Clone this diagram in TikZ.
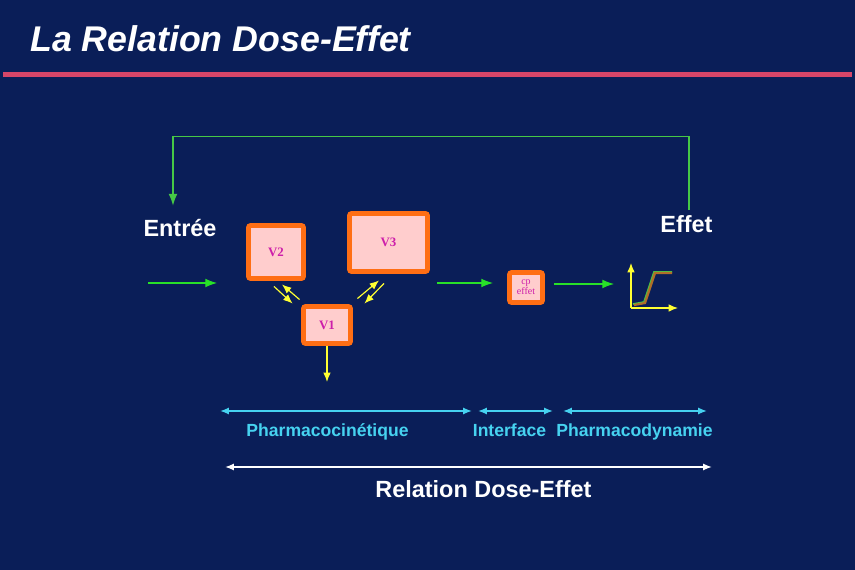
\documentclass[tikz,border=0pt]{standalone}
\usepackage{fontspec}
\setmainfont{Liberation Sans}
\newfontfamily\volfont{Liberation Serif}
\usetikzlibrary{arrows.meta,calc}

\definecolor{slidebg}{RGB}{10,30,88}
\definecolor{rulered}{RGB}{215,70,105}
\definecolor{boxorange}{RGB}{255,110,20}
\definecolor{boxpink}{RGB}{255,205,205}
\definecolor{volmagenta}{RGB}{205,30,170}
\definecolor{flowgreen}{RGB}{40,225,40}
\definecolor{loopgreen}{RGB}{70,200,70}
\definecolor{swapyellow}{RGB}{255,255,50}
\definecolor{phasecyan}{RGB}{70,210,240}
\definecolor{curvebrown}{RGB}{175,110,40}

\begin{document}
\begin{tikzpicture}[
  x=0.03cm, y=-0.03cm,
  vol/.style={
    draw=boxorange,
    fill=boxpink,
    line width=4.2pt,
    rounded corners=2pt,
    inner sep=0pt,
    text=volmagenta,
    font=\volfont\bfseries\fontsize{11}{12}\selectfont
  },
  lbl/.style={anchor=base, inner sep=0pt, text=white,
    font=\bfseries\fontsize{20}{22}\selectfont},
  phase/.style={anchor=base, inner sep=0pt, text=phasecyan,
    font=\bfseries\fontsize{15}{17}\selectfont},
  flow/.style={-{Latex[length=10pt,width=7.5pt]}, line width=0.9pt, draw=flowgreen},
  swap/.style={-{Latex[length=8pt,width=6.5pt]}, line width=1pt, draw=swapyellow},
  span/.style={{Latex[length=7.5pt,width=6pt]}-{Latex[length=7.5pt,width=6pt]}, line width=1.4pt}
]

% slide background and heading
\fill[slidebg] (0,0) rectangle (855,570);
\node[anchor=base west, inner sep=0pt, text=white,
  font=\bfseries\itshape\fontsize{30.5}{34}\selectfont] (title) at (30,52) {La Relation Dose-Effet};
\fill[rulered] (3,72) rectangle (852,77);

% compartments
\node[vol, minimum width=1.65cm, minimum height=1.59cm] (v2) at (276,252) {V2};
\node[vol, minimum width=2.34cm, minimum height=1.74cm] (v3) at (388.5,242.5) {V3};
\node[vol, minimum width=1.41cm, minimum height=1.11cm] (v1) at (327,325) {V1};
\node[vol, minimum width=0.99cm, minimum height=0.90cm, align=center,
  font=\volfont\fontsize{8.5}{7.5}\selectfont] (cp) at (526,287.5) {cp\\effet};

\node[lbl] (entree) at (180,237) {Entrée};
\node[lbl] (effet) at (686.5,233) {Effet};

% input and flow to the effect
\coordinate (in0) at (148,283);
\coordinate (in1) at (217,283);
\coordinate (out0) at (437,283);
\coordinate (origin) at (631,308);
\draw[flow] (in0) -- (in1);
\draw[flow, shorten >=12pt] (out0) -- (out0 -| cp.west);
\draw[flow, shorten <=8pt, shorten >=14.5pt] (cp.east |- 0,284) -- (origin |- 0,284);

% feedback loop
\draw[flow, draw=loopgreen] ($(effet.north)+(2.5,-6)$) -- ++(0,-73) -| ($(entree.north)+(-7,-14)$);

% exchanges between compartments
\draw[swap] ($(v2.south)+(-2,5.5)$) -- ($(v1.north west)+(-8.5,-0.5)$);
\draw[swap] ($(v1.north west)+(-1.5,-4.5)$) -- ($(v2.south)+(6,3.5)$);
\draw[swap] ($(v1.north east)+(4.5,-5.5)$) -- ($(v3.south)+(-9.5,6.5)$);
\draw[swap] ($(v3.south)+(-4.5,9.5)$) -- ($(v1.north east)+(11.5,-0.5)$);
\draw[swap] (v1.south) -- ++(0,36);

% effect curve
\draw[swap] (origin) -- ++(0,-45);
\draw[swap] (origin) -- ++(47,0);
\draw[loopgreen, line width=1.4pt] (633,304) -- (644,302) -- (654,272) -- (672,272);
\draw[curvebrown, line width=1.9pt] (634,305) -- (645,303) -- (655,273) -- (672,273);

% phases
\coordinate (pk0) at (220,411);
\coordinate (pk1) at (472,411);
\coordinate (if0) at (478,411);
\coordinate (if1) at (553,411);
\coordinate (pd0) at (563,411);
\coordinate (pd1) at (707,411);
\coordinate (de0) at (225,467);
\coordinate (de1) at (712,467);
\draw[span, draw=phasecyan] (pk0) -- (pk1);
\draw[span, draw=phasecyan] (if0) -- (if1);
\draw[span, draw=phasecyan] (pd0) -- (pd1);
\draw[span, draw=white] (de0) -- (de1);

\node[phase] (pk) at (327.5,437) {Pharmacocinétique};
\node[phase] (iface) at (509.5,437) {Interface};
\node[phase] (pd) at (634.5,437) {Pharmacodynamie};
\node[lbl] (doseeffet) at (483.5,498) {Relation Dose-Effet};

\end{tikzpicture}
\end{document}
